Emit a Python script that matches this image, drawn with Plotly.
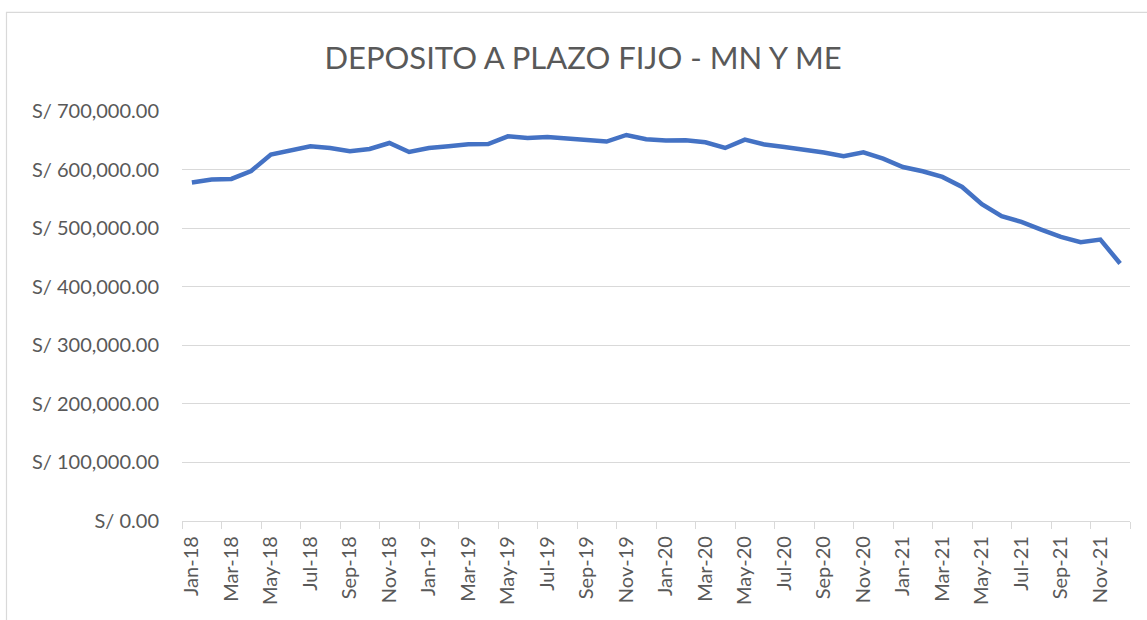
import plotly.graph_objects as go

months = ["Jan", "Feb", "Mar", "Apr", "May", "Jun", "Jul", "Aug", "Sep", "Oct", "Nov", "Dec"]
years = ["18", "19", "20", "21"]
categories = [f"{m}-{y}" for y in years for m in months]

values = [
    577800, 582900, 584000, 597600, 625600, 633000, 639800, 636900, 631200, 635200, 645400, 630000,
    636900, 639800, 643200, 643700, 656800, 653900, 655600, 652900, 649500, 647800, 659100, 651700,
    649500, 650000, 646600, 636900, 651200, 642700, 638600, 634100, 629000, 622700, 629500, 618800,
    604400, 597100, 587400, 570300, 540800, 520300, 510600, 497600, 485000, 476000, 480500, 439600,
]

y_ticks = [0, 100000, 200000, 300000, 400000, 500000, 600000, 700000]
y_tick_text = [f"S/ {v:,.2f}" for v in y_ticks]
title_text = "DEPOSITO A PLAZO FIJO - MN Y ME"

x_idx = list(range(len(categories)))
label_idx = x_idx[::2]
label_text = categories[::2]
boundary_ticks = [i - 0.5 for i in range(0, len(categories) + 1, 2)]

W, H = 1147, 620
L, R, T, B = 182, 17, 111, 99
pw, ph = W - L - R, H - T - B

def px_x(p):
    return (p - L) / pw

def px_y(p):
    return (H - B - p) / ph

fig = go.Figure()
fig.add_trace(go.Scatter(
    x=x_idx, y=values, mode="lines",
    line=dict(color="#4472C4", width=4.5),
    hoverinfo="skip",
))

font_family = "Lato, 'Open Sans', sans-serif"
grey = "#595959"

fig.update_layout(
    width=W, height=H,
    margin=dict(l=L, r=R, t=T, b=B, autoexpand=False),
    paper_bgcolor="white", plot_bgcolor="white",
    showlegend=False,
    font=dict(family=font_family, color=grey),
    title=dict(text=title_text, x=583 / W, xref="container", xanchor="center",
               y=1 - 58 / H, yref="container", yanchor="middle",
               font=dict(size=31, color=grey, family=font_family)),
    xaxis=dict(
        range=[-0.5, len(categories) - 0.5],
        tickmode="array", tickvals=label_idx, ticktext=label_text,
        tickangle=-90, ticks="", showgrid=False, zeroline=False,
        showline=True, linecolor="#d9d9d9", linewidth=1.3,
        tickfont=dict(size=20, color=grey),
        ticklabelstandoff=6,
        minor=dict(tickmode="array", tickvals=boundary_ticks, ticks="outside",
                   ticklen=7, tickcolor="#d9d9d9", tickwidth=1.3, showgrid=False),
    ),
    yaxis=dict(
        range=[0, 700000], tickmode="array", tickvals=y_ticks, ticktext=y_tick_text,
        showgrid=True, gridcolor="#d9d9d9", gridwidth=1.3,
        zeroline=False, showline=False, ticks="",
        tickfont=dict(size=20, color=grey),
        ticklabelstandoff=22,
    ),
    shapes=[dict(type="rect", xref="paper", yref="paper",
                 x0=px_x(6.5), x1=px_x(1160), y0=px_y(640), y1=px_y(12.3),
                 line=dict(color="#d9d9d9", width=1.2), fillcolor="rgba(0,0,0,0)", layer="below")],
)

fig.write_html(
    "out.html",
    config={"displayModeBar": False},
    post_script="document.body.style.margin='0';document.body.style.overflow='hidden';",
)
